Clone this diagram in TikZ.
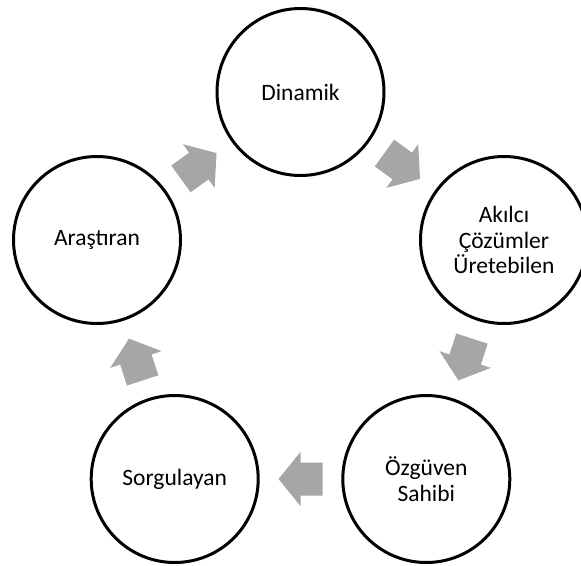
\documentclass[tikz,border=0pt]{standalone}
\usepackage{fontspec}
\setmainfont{Carlito}
\usetikzlibrary{calc}
\definecolor{arrowgray}{RGB}{166,166,166}
\tikzset{
  bubble/.style={circle, draw=black, line width=3pt, fill=white, minimum size=167pt,
    inner sep=0pt, align=center, font=\fontsize{23.5pt}{25.5pt}\selectfont},
  blockarrow/.style={fill=arrowgray, draw=none}
}
\newcommand\cyclearrow[2]{%
  \coordinate (m#1#2) at ($(#1)!0.5!(#2)$);
  \coordinate (t#1#2) at ($(m#1#2)!-22pt!(#2)$);
  \coordinate (p#1#2) at ($(m#1#2)!22pt!(#2)$);
  \fill[blockarrow] ($(t#1#2)!16.5pt!90:(p#1#2)$) -- ($(m#1#2)!16.5pt!90:(p#1#2)$)
    -- ($(m#1#2)!27pt!90:(p#1#2)$) -- (p#1#2) -- ($(m#1#2)!27pt!-90:(p#1#2)$)
    -- ($(m#1#2)!16.5pt!-90:(p#1#2)$) -- ($(t#1#2)!16.5pt!-90:(p#1#2)$) -- cycle;
}
\begin{document}
\begin{tikzpicture}[x=1pt, y=-1pt]
  \clip (0,0) rectangle (581,565);
  \fill[white] (0,0) rectangle (581,565);
  \node[bubble] (dyn) at (300.5,92) {Dinamik};
  \node[bubble] (akl) at (504,240) {Akılcı\\Çözümler\\Üretebilen};
  \node[bubble] (ozg) at (426.3,479) {Özgüven\\Sahibi};
  \node[bubble] (sor) at (174.7,479) {Sorgulayan};
  \node[bubble] (ara) at (97,240) {Araştıran};
  \cyclearrow{dyn}{akl}
  \cyclearrow{akl}{ozg}
  \cyclearrow{ozg}{sor}
  \cyclearrow{sor}{ara}
  \cyclearrow{ara}{dyn}
\end{tikzpicture}
\end{document}
